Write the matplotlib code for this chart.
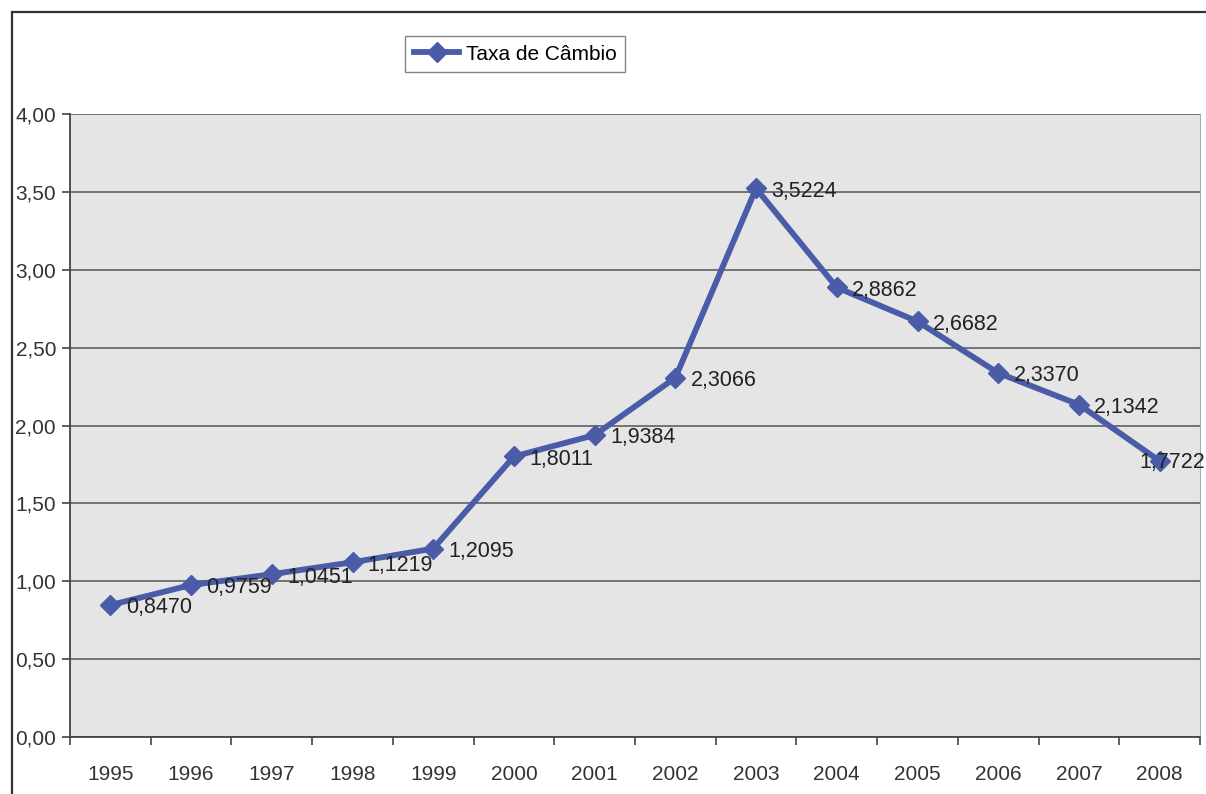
import matplotlib
matplotlib.use("Agg")
import matplotlib.pyplot as plt
from matplotlib.ticker import FuncFormatter, FixedLocator, MultipleLocator
from matplotlib.lines import Line2D

years = ["1995", "1996", "1997", "1998", "1999", "2000", "2001",
         "2002", "2003", "2004", "2005", "2006", "2007", "2008"]
taxa = [0.8470, 0.9759, 1.0451, 1.1219, 1.2095, 1.8011, 1.9384,
        2.3066, 3.5224, 2.8862, 2.6682, 2.3370, 2.1342, 1.7722]
series_name = "Taxa de Câmbio"

plt.rcParams["font.family"] = ["Liberation Sans", "DejaVu Sans"]

fig = plt.figure(figsize=(12.06, 7.94), dpi=100)
fig.patch.set_facecolor("white")

# outer chart frame
fig.add_artist(Line2D([12/1206, 12/1206], [0, 1 - 12/794], transform=fig.transFigure,
                      color="#333333", lw=1.6))
fig.add_artist(Line2D([12/1206, 1], [1 - 12/794, 1 - 12/794], transform=fig.transFigure,
                      color="#333333", lw=1.6))

ax = fig.add_axes([70/1206, 1 - 737/794, (1200 - 70)/1206, (737 - 114)/794])
ax.set_facecolor("#e5e5e5")

x = list(range(len(years)))
line_color = "#4a5ca8"
ax.plot(x, taxa, color=line_color, lw=4.2, marker="D", markersize=10.5,
        markerfacecolor=line_color, markeredgecolor=line_color, zorder=3,
        label=series_name)

for i, (xi, v) in enumerate(zip(x, taxa)):
    txt = f"{v:.4f}".replace(".", ",")
    if i == len(taxa) - 1:
        # last label pulled back inside the chart edge
        ax.annotate(txt, (xi, v), xytext=(33, -1), textcoords="offset points",
                    ha="right", va="center", fontsize=15.5, color="#222222",
                    zorder=4, annotation_clip=False)
    else:
        ax.annotate(txt, (xi, v), xytext=(11, -2), textcoords="offset points",
                    ha="left", va="center", fontsize=15.5, color="#222222",
                    zorder=4, annotation_clip=False)

ax.set_xlim(-0.5, len(years) - 0.5)
ax.set_ylim(0, 4)
ax.yaxis.set_major_locator(MultipleLocator(0.5))
ax.yaxis.set_major_formatter(FuncFormatter(lambda v, p: f"{v:.2f}".replace(".", ",")))
ax.grid(axis="y", color="#555555", lw=1.1, zorder=1)
ax.set_axisbelow(True)

ax.set_xticks(x)
ax.set_xticklabels(years)
ax.xaxis.set_minor_locator(FixedLocator([i + 0.5 for i in range(-1, len(years))]))
ax.tick_params(axis="x", which="major", length=0, pad=20, labelsize=15, colors="#333333")
ax.tick_params(axis="x", which="minor", length=6, width=1.2, color="#444444", direction="out")
ax.tick_params(axis="y", length=6, width=1.2, color="#444444", direction="out",
               labelsize=15, labelcolor="#333333", pad=4)

ax.spines["top"].set_visible(False)
ax.spines["right"].set_color("#aaaaaa")
ax.spines["left"].set_color("#444444")
ax.spines["bottom"].set_color("#444444")
ax.spines["left"].set_linewidth(1.3)
ax.spines["bottom"].set_linewidth(1.3)

leg = fig.legend(loc="center", bbox_to_anchor=(515/1206, 1 - 54/794), frameon=True,
                 fontsize=15, fancybox=False, edgecolor="#666666",
                 handlelength=2.2, borderpad=0.4, handletextpad=0.3)
leg.get_frame().set_linewidth(1.0)

fig.savefig("out.png", dpi=100)
